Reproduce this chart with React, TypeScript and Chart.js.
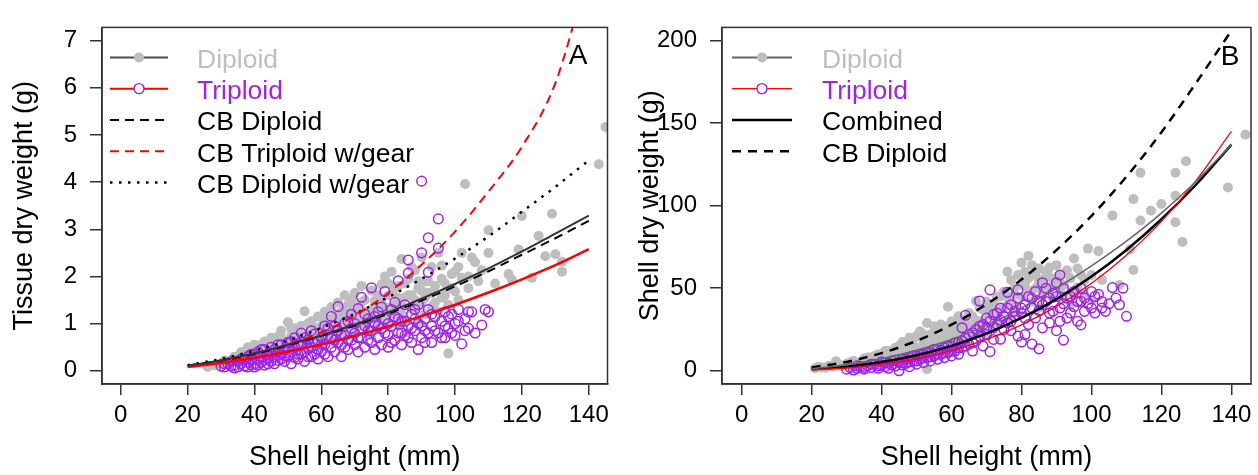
import React, { useEffect, useRef } from "react";
import { Chart, registerables } from "chart.js";

Chart.register(...registerables);

const FONT = "'Liberation Sans', Arial, Helvetica, sans-serif";
const GRAY = "#BEBEBE";
const PURPLE = "#A020F0";
const RED = "#FF0000";

// ---------- shared ----------
const X_TICKS = [0, 20, 40, 60, 80, 100, 120, 140];
const FIT_X = [20, 30, 40, 50, 60, 70, 80, 90, 100, 110, 120, 130, 140];

// ---------- Panel A: tissue dry weight ----------
const A_Y_TICKS = [0, 1, 2, 3, 4, 5, 6, 7];
const A_DIPLOID_FIT = [0.11, 0.22, 0.37, 0.55, 0.75, 0.98, 1.24, 1.53, 1.84, 2.17, 2.53, 2.91, 3.29];
const A_TRIPLOID_FIT = [0.08, 0.165, 0.27, 0.41, 0.56, 0.74, 0.94, 1.16, 1.4, 1.66, 1.94, 2.24, 2.58];
const A_CB_DIPLOID = [0.11, 0.22, 0.36, 0.54, 0.74, 0.96, 1.21, 1.49, 1.79, 2.11, 2.46, 2.81, 3.18];
const A_CB_TRIPLOID_GEAR = [0.1, 0.2, 0.35, 0.56, 0.82, 1.17, 1.65, 2.25, 2.95, 3.8, 4.75, 6.1, 8.5];
const A_CB_DIPLOID_GEAR = [0.12, 0.25, 0.43, 0.64, 0.91, 1.21, 1.56, 1.95, 2.38, 2.85, 3.37, 3.9, 4.46];

const A_DIPLOID_PTS: [number, number][] = [
  [26, 0.08], [28, 0.12], [30, 0.15], [31, 0.22], [33, 0.18], [34, 0.3], [35, 0.25], [36, 0.4], [37, 0.2], [38, 0.5],
  [39, 0.33], [40, 0.55], [40, 0.42], [41, 0.28], [42, 0.55], [42, 0.38], [43, 0.62], [44, 0.45], [44, 0.25], [45, 0.7],
  [45, 0.35], [46, 0.55], [47, 0.72], [47, 0.4], [48, 0.85], [48, 0.5], [49, 0.62], [50, 1.03], [50, 0.45], [51, 0.75],
  [52, 0.9], [52, 0.55], [53, 0.68], [53, 0.35], [54, 0.95], [55, 1.26], [55, 0.6], [56, 0.8], [56, 0.45], [57, 1.05],
  [57, 0.7], [58, 0.9], [58, 0.55], [59, 1.15], [59, 0.75], [60, 0.95], [60, 0.6], [61, 1.25], [61, 0.85], [62, 1.05],
  [62, 0.7], [63, 1.35], [63, 0.9], [64, 1.15], [64, 0.6], [65, 1.45], [65, 1.0], [66, 0.8], [66, 1.25], [67, 1.6],
  [67, 1.05], [68, 0.9], [68, 1.4], [69, 1.2], [69, 0.75], [70, 1.65], [70, 1.1], [71, 0.95], [71, 1.35], [72, 1.8],
  [72, 1.16], [73, 1.0], [73, 1.5], [74, 1.25], [74, 0.8], [75, 1.7], [75, 0.75], [76, 1.48], [76, 1.1], [77, 1.3],
  [77, 0.9], [78, 1.83], [78, 1.45], [79, 1.15], [79, 2.0], [80, 1.6], [80, 1.0], [81, 1.35], [81, 2.1], [82, 1.75],
  [82, 1.2], [83, 0.95], [83, 1.55], [84, 2.37], [84, 1.4], [85, 1.85], [85, 1.1], [86, 1.6], [86, 0.81], [87, 2.2],
  [87, 1.3], [88, 2.13], [88, 1.5], [89, 1.75], [89, 1.05], [90, 2.4], [90, 1.45], [91, 1.9], [91, 1.2], [92, 1.65],
  [93, 2.2], [93, 1.35], [94, 1.8], [95, 2.5], [95, 1.25], [96, 2.23], [96, 1.55], [97, 1.85], [98, 0.37], [98, 1.4],
  [99, 2.05], [100, 1.68], [101, 2.2], [102, 2.5], [102, 1.97], [103, 3.96], [104, 1.75], [106, 2.3], [108, 2.13],
  [110, 2.98], [110, 2.5], [112, 1.85], [116, 2.05], [117, 1.93], [119, 2.57], [120, 3.28], [123, 1.97], [125, 2.86],
  [127, 2.43], [129, 3.33], [130, 2.47], [132, 2.31], [132, 2.1], [143, 4.38], [145, 5.17],
  [38, 0.35], [41, 0.48], [43, 0.3], [46, 0.62], [48, 0.7], [50, 0.6], [51, 0.9], [53, 0.8], [54, 0.5], [56, 1.0],
  [58, 0.7], [60, 1.15], [61, 0.7], [62, 0.9], [63, 1.1], [64, 0.85], [65, 1.2], [66, 1.05], [67, 1.3], [68, 1.15],
  [69, 1.5], [70, 0.9], [71, 1.25], [72, 1.45], [73, 1.2], [74, 1.05], [75, 1.3], [76, 1.25], [77, 1.6], [78, 1.05],
  [79, 1.35], [80, 1.85], [81, 1.6], [82, 1.4], [83, 1.8], [84, 1.2], [85, 1.55], [86, 1.95], [87, 1.6], [88, 1.3],
  [89, 1.9], [90, 1.7], [91, 1.55], [92, 1.9], [93, 1.65], [94, 1.45], [96, 1.95], [97, 1.6], [99, 1.75], [100, 2.1],
  [101, 1.5], [104, 2.0], [105, 2.4], [107, 1.9],
];

const A_TRIPLOID_PTS: [number, number][] = [
  [30, 0.1], [31, 0.08], [32, 0.15], [33, 0.1], [34, 0.12], [35, 0.2], [35, 0.08], [36, 0.15], [37, 0.25], [37, 0.1],
  [38, 0.18], [38, 0.3], [39, 0.12], [39, 0.22], [40, 0.35], [40, 0.15], [40, 0.08], [41, 0.25], [41, 0.4], [42, 0.18],
  [42, 0.3], [43, 0.12], [43, 0.45], [44, 0.25], [44, 0.35], [45, 0.2], [45, 0.5], [46, 0.3], [46, 0.15], [47, 0.4],
  [47, 0.55], [48, 0.25], [48, 0.35], [49, 0.45], [49, 0.2], [50, 0.6], [50, 0.3], [51, 0.4], [51, 0.15], [52, 0.5],
  [52, 0.7], [53, 0.35], [53, 0.25], [54, 0.55], [54, 0.8], [55, 0.4], [55, 0.2], [56, 0.65], [56, 0.3], [57, 0.5],
  [57, 0.85], [58, 0.35], [58, 0.6], [59, 0.45], [59, 0.25], [60, 0.7], [60, 0.4], [61, 0.95], [61, 0.55], [62, 0.3],
  [62, 0.75], [63, 0.5], [63, 1.15], [64, 0.65], [64, 0.4], [65, 1.36], [65, 0.85], [66, 0.55], [66, 0.3], [67, 0.75],
  [67, 1.0], [68, 0.45], [68, 0.65], [69, 0.9], [69, 1.2], [70, 0.55], [70, 0.8], [71, 1.32], [71, 0.4], [72, 1.56],
  [72, 0.7], [73, 0.95], [73, 0.5], [74, 1.1], [74, 0.65], [75, 1.76], [75, 0.85], [76, 0.45], [76, 1.0], [77, 0.7],
  [77, 1.25], [78, 0.55], [78, 0.9], [79, 1.68], [79, 1.1], [80, 0.75], [80, 0.5], [81, 1.3], [81, 0.95], [82, 0.65],
  [82, 1.15], [83, 1.91], [83, 0.8], [84, 1.05], [84, 0.55], [85, 1.4], [85, 0.75], [86, 2.35], [86, 2.07], [86, 0.95],
  [87, 1.2], [87, 0.6], [88, 0.85], [88, 1.3], [89, 1.0], [89, 0.45], [90, 4.02], [90, 2.5], [90, 0.7], [91, 1.1],
  [91, 0.85], [92, 2.82], [92, 2.09], [92, 1.3], [93, 0.6], [93, 0.95], [94, 1.15], [95, 3.22], [95, 2.6], [95, 0.8],
  [96, 1.05], [97, 1.25], [97, 0.7], [98, 0.9], [99, 1.2], [100, 0.75], [100, 1.0], [101, 1.3], [102, 0.57], [103, 1.1],
  [104, 0.9], [105, 1.25], [106, 0.8], [108, 0.97], [109, 1.3], [110, 1.25],
  [31, 0.15], [33, 0.2], [34, 0.06], [36, 0.25], [38, 0.08], [39, 0.35], [41, 0.12], [42, 0.45], [43, 0.22], [44, 0.15],
  [45, 0.38], [46, 0.45], [47, 0.22], [48, 0.55], [49, 0.32], [50, 0.48], [51, 0.62], [52, 0.28], [53, 0.58], [54, 0.35],
  [55, 0.7], [56, 0.48], [57, 0.3], [58, 0.78], [59, 0.62], [60, 0.55], [61, 0.35], [62, 0.9], [63, 0.68], [64, 0.95],
  [65, 0.6], [66, 0.75], [67, 0.5], [68, 1.05], [69, 0.65], [70, 1.0], [71, 0.7], [72, 0.9], [73, 1.2], [74, 0.85],
  [75, 0.6], [76, 1.15], [77, 0.95], [78, 1.35], [79, 0.8], [80, 1.0], [81, 0.6], [82, 1.45], [83, 1.1], [84, 0.8],
  [85, 1.05], [86, 0.7], [87, 0.9], [88, 1.1], [89, 1.4], [90, 0.95], [91, 0.6], [92, 0.8], [93, 1.2], [94, 0.85],
  [96, 0.7], [97, 0.95], [98, 1.15], [99, 0.8], [101, 1.05], [103, 0.85], [104, 1.25],
];

// ---------- Panel B: shell dry weight ----------
const B_Y_TICKS = [0, 50, 100, 150, 200];
const B_DIPLOID_FIT = [1.3, 3.6, 7.3, 12.5, 19.0, 27.5, 38, 50, 63.5, 78.5, 95.5, 115, 137];
const B_TRIPLOID_FIT = [0.6, 1.7, 3.9, 7.3, 12.3, 19.0, 27.8, 39.0, 53.0, 70, 90.5, 115.5, 145];
const B_COMBINED = [0.87, 2.5, 5.28, 9.43, 15.1, 22.6, 32.0, 43.4, 57.1, 73.2, 91.8, 113, 137];
const B_CB_DIPLOID = [2.06, 5.41, 10.7, 18.1, 27.9, 40.3, 55.3, 73.1, 93.8, 117.6, 144.5, 174.7, 206];

const B_DIPLOID_PTS: [number, number][] = [
  [21, 1.5], [22, 2.5], [24, 1.8], [25, 3], [27, 5.8], [28, 3.5], [30, 4.2], [32, 6], [33, 4], [35, 7.5],
  [36, 5.5], [37, 8], [38, 6.5], [39, 10], [40, 7.5], [41, 12], [42, 9], [43, 6], [44, 14], [45, 10.5],
  [46, 17.4], [46, 8], [47, 13], [48, 20], [48, 11], [49, 15.5], [50, 21], [50, 9], [51, 24], [51, 14],
  [52, 18], [52, 11], [53, 29], [53, 1], [54, 22], [54, 15], [55, 27], [55, 12], [56, 19], [57, 25],
  [57, 14], [58, 17], [59, 38.8], [59, 22], [60, 30], [60, 13], [61, 20], [62, 33], [62, 16], [63, 30.7],
  [63, 24], [64, 19], [65, 35], [66, 27], [66, 22], [67, 42.3], [68, 30], [68, 25], [69, 37], [70, 33],
  [70, 21], [71, 40], [72, 28], [73, 44.6], [73, 35], [74, 30], [75, 38], [76, 60], [76, 45], [77, 32],
  [78, 50], [78, 40], [79, 36], [80, 65.5], [80, 45], [81, 52], [82, 69.6], [82, 48], [83, 42], [84, 58],
  [85, 54], [85, 38], [86, 46], [87, 60], [88, 62.6], [88, 50], [89, 44], [90, 55], [91, 48], [92, 52],
  [93, 60.9], [94, 40], [95, 68], [95, 46], [96, 50.4], [97, 58], [98, 46.4], [99, 74], [100, 42.3], [102, 72.5],
  [103, 55], [106, 94], [108, 52], [111, 73.6], [112, 61], [112, 104], [114, 120], [114, 91], [117, 97], [120, 101],
  [124, 106], [124, 120], [124, 90], [126, 78], [127, 127], [139, 111], [144, 143],
  [23, 2], [26, 2.5], [29, 3], [31, 5], [34, 5], [36, 8], [38, 9], [40, 10], [42, 12], [44, 9],
  [45, 15], [47, 16], [49, 19], [50, 13], [52, 22], [53, 16], [55, 20], [56, 25], [57, 28], [58, 21],
  [59, 27], [60, 22], [61, 26], [62, 24], [63, 28], [64, 30], [65, 25], [66, 33], [67, 30], [68, 38],
  [69, 30], [70, 42], [71, 35], [72, 40], [73, 38], [74, 45], [75, 48], [76, 40], [77, 55], [78, 46],
  [79, 58], [80, 52], [81, 60], [82, 56], [83, 64], [84, 50], [85, 62], [86, 55], [87, 50], [88, 57],
  [89, 52], [90, 64], [91, 58], [92, 45], [94, 56], [96, 62], [98, 55], [100, 58],
];

const B_TRIPLOID_PTS: [number, number][] = [
  [30, 1], [31, 2], [32, 0.5], [33, 1.5], [34, 2.5], [35, 1], [36, 3], [37, 2], [38, 4], [39, 1.5],
  [40, 3.5], [40, 5.5], [41, 2.5], [42, 4.5], [42, 1.5], [43, 6], [44, 3], [45, 5], [45, 0], [46, 7],
  [46, 3.5], [47, 4.5], [48, 8], [48, 2.5], [49, 6], [50, 9], [50, 4], [51, 7], [52, 5], [52, 10],
  [53, 8], [54, 6], [54, 11], [55, 9], [56, 7], [56, 12.5], [57, 10], [58, 8], [58, 14], [59, 11],
  [60, 9], [60, 15], [61, 12], [62, 17], [62, 10], [63, 26.1], [63, 14], [64, 33.6], [64, 20], [65, 16],
  [66, 12], [66, 23], [67, 18], [68, 42.3], [68, 27], [69, 15], [70, 31.9], [70, 22], [71, 49], [71, 11.6],
  [72, 26], [72, 19], [73, 35], [74, 30.7], [74, 19.1], [75, 25], [76, 47.5], [76, 38], [77, 24.3], [77, 30],
  [78, 33], [79, 49], [79, 21], [80, 34.8], [80, 17.4], [81, 22], [81, 40], [82, 28], [83, 16.2], [83, 44],
  [84, 32], [85, 36.5], [85, 13.3], [86, 53.3], [86, 26], [87, 42], [88, 29], [88, 35], [89, 47], [90, 53.3],
  [90, 24.3], [91, 58], [91, 38], [92, 18.6], [92, 40.6], [93, 32], [94, 45], [95, 38.8], [96, 30], [97, 27.8],
  [97, 42], [98, 36], [99, 40.6], [100, 48], [101, 35], [102, 46.4], [103, 38], [105, 40.6], [106, 50.4], [107, 44],
  [110, 33],
  [33, 3], [35, 2], [37, 4], [39, 3], [41, 5], [43, 3.5], [44, 6.5], [46, 5], [47, 7], [48, 5.5],
  [49, 9], [50, 6], [51, 10], [52, 8], [53, 11], [54, 8.5], [55, 13], [56, 10], [57, 12.5], [58, 11],
  [59, 15], [60, 12], [61, 17], [62, 14], [63, 18], [64, 15], [65, 22], [66, 17], [67, 25], [68, 21],
  [69, 28], [70, 26], [71, 30], [72, 34], [73, 28], [74, 38], [75, 33], [76, 29], [77, 40], [78, 36],
  [79, 44], [80, 38], [81, 32], [82, 45], [83, 38], [84, 48], [85, 42], [86, 40], [87, 50], [88, 44],
  [89, 36], [90, 45], [91, 30], [92, 50], [93, 44], [94, 35], [95, 48], [96, 42], [97, 50], [98, 44],
  [100, 38], [101, 45], [103, 42], [104, 36], [108, 40], [109, 50],
];

// ---------- panel specs ----------
type LineSpec = { label: string; values: number[]; color: string; width: number; dash: number[] };
type LegendSpec = {
  label: string; textColor: string; lineColor: string; lineWidth: number; dash: number[];
  marker: "filled" | "open" | null;
};
type PanelSpec = {
  yTicks: number[]; yMin: number; yMax: number; yTitle: string; yTitlePad: number;
  yAxisWidth: number; rightPad: number;
  lines: LineSpec[]; dipPts: [number, number][]; triPts: [number, number][];
  legend: LegendSpec[]; letter: string; letterX: number; letterY: number;
  legLineStart: number; legLineLen: number; legTextStart: number;
};

const PANEL_A: PanelSpec = {
  yTicks: A_Y_TICKS, yMin: -0.28, yMax: 7.28, yTitle: "Tissue dry weight (g)", yTitlePad: 8,
  yAxisWidth: 102, rightPad: 21.5,
  lines: [
    { label: "Diploid", values: A_DIPLOID_FIT, color: "#333333", width: 2, dash: [] },
    { label: "Triploid", values: A_TRIPLOID_FIT, color: RED, width: 2.5, dash: [] },
    { label: "CB Diploid", values: A_CB_DIPLOID, color: "#000000", width: 2, dash: [9, 6] },
    { label: "CB Triploid w/gear", values: A_CB_TRIPLOID_GEAR, color: RED, width: 2, dash: [9, 6] },
    { label: "CB Diploid w/gear", values: A_CB_DIPLOID_GEAR, color: "#000000", width: 2.5, dash: [2.5, 6.5] },
  ],
  dipPts: A_DIPLOID_PTS, triPts: A_TRIPLOID_PTS,
  legend: [
    { label: "Diploid", textColor: GRAY, lineColor: "#4d4d4d", lineWidth: 2, dash: [], marker: "filled" },
    { label: "Triploid", textColor: PURPLE, lineColor: RED, lineWidth: 2, dash: [], marker: "open" },
    { label: "CB Diploid", textColor: "#000", lineColor: "#000", lineWidth: 2, dash: [9, 6], marker: null },
    { label: "CB Triploid w/gear", textColor: "#000", lineColor: RED, lineWidth: 2, dash: [9, 6], marker: null },
    { label: "CB Diploid w/gear", textColor: "#000", lineColor: "#000", lineWidth: 2.5, dash: [2.5, 6.5], marker: null },
  ],
  letter: "A", letterX: 578, letterY: 64,
  legLineStart: 8, legLineLen: 58, legTextStart: 95,
};

const PANEL_B: PanelSpec = {
  yTicks: B_Y_TICKS, yMin: -8, yMax: 208, yTitle: "Shell dry weight (g)", yTitlePad: 5,
  yAxisWidth: 93, rightPad: 7,
  lines: [
    { label: "Diploid", values: B_DIPLOID_FIT, color: "#666666", width: 1.5, dash: [] },
    { label: "Triploid", values: B_TRIPLOID_FIT, color: RED, width: 1.3, dash: [] },
    { label: "Combined", values: B_COMBINED, color: "#000000", width: 2.5, dash: [] },
    { label: "CB Diploid", values: B_CB_DIPLOID, color: "#000000", width: 2.5, dash: [9, 7] },
  ],
  dipPts: B_DIPLOID_PTS, triPts: B_TRIPLOID_PTS,
  legend: [
    { label: "Diploid", textColor: GRAY, lineColor: "#666666", lineWidth: 2, dash: [], marker: "filled" },
    { label: "Triploid", textColor: PURPLE, lineColor: RED, lineWidth: 1.3, dash: [], marker: "open" },
    { label: "Combined", textColor: "#000", lineColor: "#000", lineWidth: 2.5, dash: [], marker: null },
    { label: "CB Diploid", textColor: "#000", lineColor: "#000", lineWidth: 2.5, dash: [9, 7], marker: null },
  ],
  letter: "B", letterX: 601, letterY: 65,
  legLineStart: 10, legLineLen: 60, legTextStart: 100,
};

function makePlugin(spec: PanelSpec) {
  return {
    id: "rFrameLegend",
    afterDatasetsDraw(chart: any) {
      const ctx: CanvasRenderingContext2D = chart.ctx;
      const { left, top, right, bottom } = chart.chartArea;
      ctx.save();
      ctx.setLineDash([]);
      ctx.strokeStyle = "#333";
      ctx.lineWidth = 1.5;
      ctx.strokeRect(left, top, right - left, bottom - top);
      spec.legend.forEach((it, i) => {
        const y = top + 30 + i * 31.25;
        const x0 = left + spec.legLineStart;
        const x1 = x0 + spec.legLineLen;
        ctx.beginPath();
        ctx.strokeStyle = it.lineColor;
        ctx.lineWidth = it.lineWidth;
        ctx.setLineDash(it.dash);
        ctx.moveTo(x0, y);
        ctx.lineTo(x1, y);
        ctx.stroke();
        ctx.setLineDash([]);
        if (it.marker) {
          ctx.beginPath();
          ctx.arc((x0 + x1) / 2, y, 5, 0, Math.PI * 2);
          if (it.marker === "filled") {
            ctx.fillStyle = GRAY;
            ctx.fill();
          } else {
            ctx.fillStyle = "#fff";
            ctx.fill();
            ctx.strokeStyle = PURPLE;
            ctx.lineWidth = 1.4;
            ctx.stroke();
          }
        }
        ctx.fillStyle = it.textColor;
        ctx.font = `26.5px ${FONT}`;
        ctx.textAlign = "left";
        ctx.textBaseline = "alphabetic";
        ctx.fillText(it.label, left + spec.legTextStart, y + 10.5);
      });
      ctx.fillStyle = "#000";
      ctx.font = `28px ${FONT}`;
      ctx.textAlign = "center";
      ctx.textBaseline = "alphabetic";
      ctx.fillText(spec.letter, spec.letterX, spec.letterY);
      ctx.restore();
    },
  };
}

function buildConfig(spec: PanelSpec): any {
  const lineSets = spec.lines.map((l, i) => ({
    label: l.label,
    data: FIT_X.map((x, j) => ({ x, y: l.values[j] })),
    showLine: true,
    borderColor: l.color,
    backgroundColor: l.color,
    borderWidth: l.width,
    borderDash: l.dash,
    borderCapStyle: "butt",
    pointRadius: 0,
    pointHoverRadius: 0,
    cubicInterpolationMode: "monotone",
    fill: false,
    order: i + 1,
  }));
  const triSet = {
    label: "Triploid points",
    data: spec.triPts.map(([x, y]) => ({ x, y })),
    showLine: false,
    pointStyle: "circle",
    pointRadius: 4.8,
    pointBorderWidth: 1.5,
    pointBackgroundColor: "rgba(0,0,0,0)",
    pointBorderColor: PURPLE,
    borderColor: PURPLE,
    clip: 0,
    order: 19,
  };
  const dipSet = {
    label: "Diploid points",
    data: spec.dipPts.map(([x, y]) => ({ x, y })),
    showLine: false,
    pointStyle: "circle",
    pointRadius: 5,
    pointBorderWidth: 0,
    pointBackgroundColor: GRAY,
    pointBorderColor: GRAY,
    borderColor: GRAY,
    clip: 0,
    order: 20,
  };
  const tickFont = { family: FONT, size: 24 };
  const titleFont = { family: FONT, size: 27 };
  return {
    type: "scatter",
    data: { datasets: [...lineSets, triSet, dipSet] },
    plugins: [makePlugin(spec)],
    options: {
      animation: false,
      responsive: false,
      devicePixelRatio: 1,
      events: [],
      layout: { padding: { top: 12, right: spec.rightPad, left: 0, bottom: 0 } },
      plugins: { legend: { display: false }, tooltip: { enabled: false } },
      scales: {
        x: {
          type: "linear",
          min: -5.6,
          max: 145.6,
          afterBuildTicks: (s: any) => {
            s.ticks = X_TICKS.map((v) => ({ value: v }));
          },
          afterFit: (s: any) => {
            s.height = 91;
          },
          grid: { display: true, drawOnChartArea: false, drawTicks: true, tickLength: 11, color: "#333", lineWidth: 1.5 },
          border: { display: true, color: "#333", width: 1.5 },
          ticks: { font: tickFont, color: "#000", padding: 6, maxRotation: 0, autoSkip: false },
          title: { display: true, text: "Shell height (mm)", font: titleFont, color: "#000", padding: { top: 0, bottom: 1 } },
        },
        y: {
          type: "linear",
          min: spec.yMin,
          max: spec.yMax,
          afterBuildTicks: (s: any) => {
            s.ticks = spec.yTicks.map((v) => ({ value: v }));
          },
          afterFit: (s: any) => {
            s.width = spec.yAxisWidth;
          },
          grid: { display: true, drawOnChartArea: false, drawTicks: true, tickLength: 12, color: "#333", lineWidth: 1.5 },
          border: { display: true, color: "#333", width: 1.5 },
          ticks: { font: tickFont, color: "#000", padding: 13, autoSkip: false },
          title: { display: true, text: spec.yTitle, font: titleFont, color: "#000", padding: { top: spec.yTitlePad, bottom: 0 } },
        },
      },
    },
  };
}

function Panel({ spec, left }: { spec: PanelSpec; left: number }) {
  const ref = useRef<HTMLCanvasElement>(null);
  useEffect(() => {
    const chart = new Chart(ref.current as HTMLCanvasElement, buildConfig(spec));
    return () => chart.destroy();
  }, [spec]);
  return (
    <canvas
      ref={ref}
      width={629}
      height={475}
      style={{ position: "absolute", left, top: 0, width: 629, height: 475 }}
    />
  );
}

export default function App() {
  return (
    <div style={{ position: "fixed", left: 0, top: 0, width: 1258, height: 475, background: "#fff", overflow: "hidden" }}>
      <Panel spec={PANEL_A} left={0} />
      <Panel spec={PANEL_B} left={629} />
    </div>
  );
}
